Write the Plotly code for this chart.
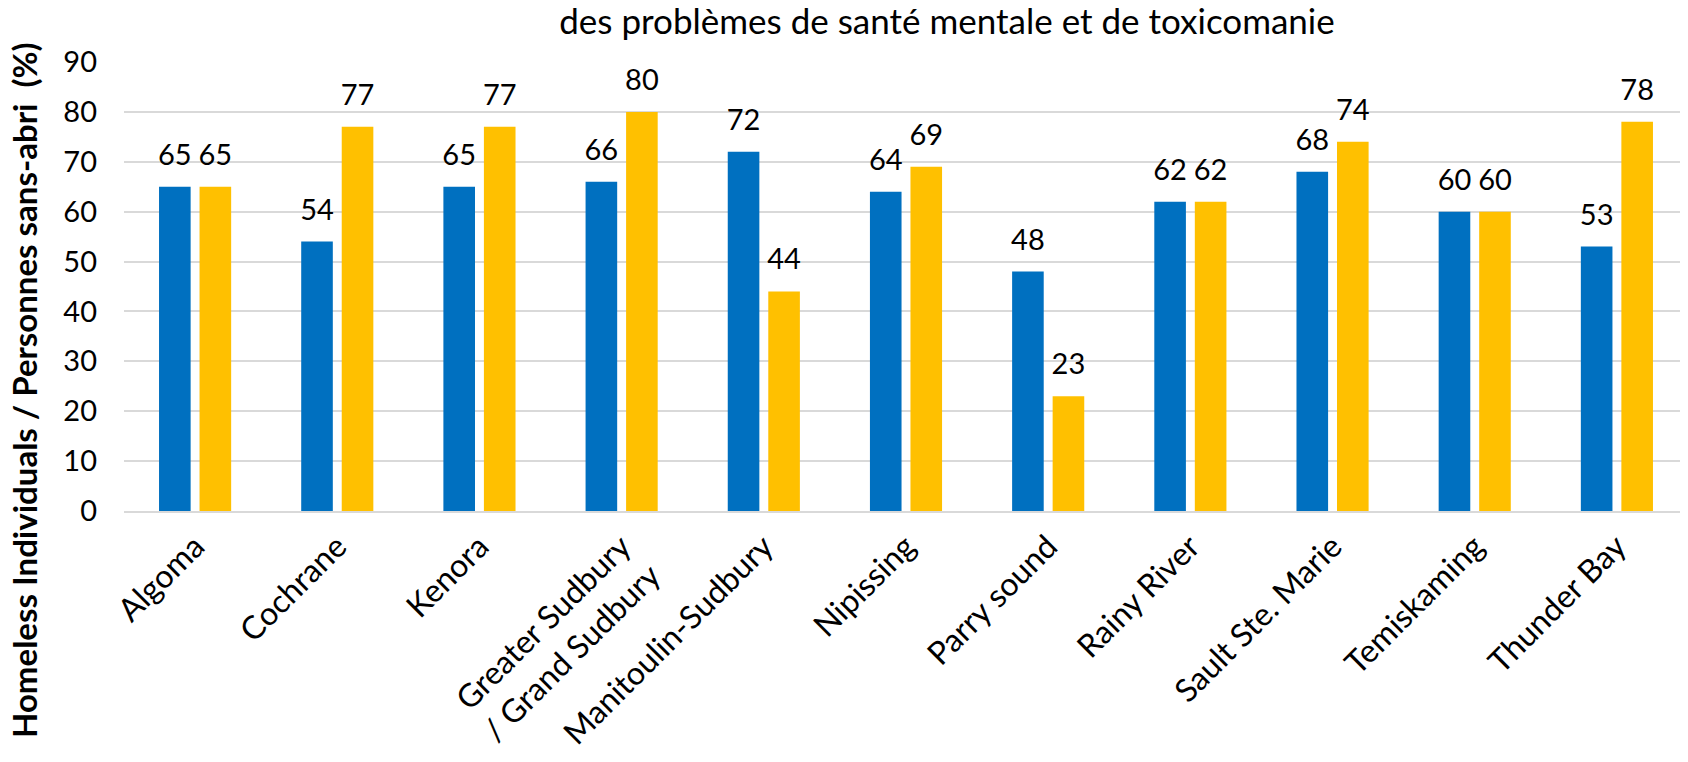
import plotly.graph_objects as go

# Data
regions = ["Algoma", "Cochrane", "Kenora", "Greater Sudbury<br>/ Grand Sudbury",
           "Manitoulin-Sudbury", "Nipissing", "Parry sound", "Rainy River",
           "Sault Ste. Marie", "Temiskaming", "Thunder Bay"]
series_a = [65, 54, 65, 66, 72, 64, 48, 62, 68, 60, 53]
series_b = [65, 77, 77, 80, 44, 69, 23, 62, 74, 60, 78]
y_ticks = [0, 10, 20, 30, 40, 50, 60, 70, 80, 90]

COLOR_BLUE = "#0070C0"
COLOR_YELLOW = "#FFC000"
FONT = "Lato, sans-serif"

# page body adds an 8px offset, so the layout is shifted up/left by that much
OFF = 8
PLOT_L, PLOT_R, PLOT_T, PLOT_B = 124 - OFF, 1688 - OFF, 62 - OFF, 511 - OFF

fig = go.Figure()
for name, vals, color in [("a", series_a, COLOR_BLUE), ("b", series_b, COLOR_YELLOW)]:
    fig.add_trace(go.Bar(
        x=regions, y=vals, name=name, offsetgroup=name,
        marker=dict(color=color, line=dict(width=0)),
        hoverinfo="x+y",
    ))
# value labels, aligned with the grouped bars
for name, vals in [("a", series_a), ("b", series_b)]:
    fig.add_trace(go.Scatter(
        x=regions, y=vals, offsetgroup=name,
        mode="markers+text", text=[str(v) for v in vals],
        textposition="top center",
        marker=dict(size=22, opacity=0),
        textfont=dict(family=FONT, size=29, color="#000000"),
        cliponaxis=False, hoverinfo="skip",
    ))

fig.update_layout(
    width=1688, height=762,
    template="plotly_white",
    showlegend=False,
    barmode="group", bargap=0.43, bargroupgap=0.22,
    scattermode="group", scattergap=0.43,
    font=dict(family=FONT, color="#000000"),
    margin=dict(l=PLOT_L, r=1688 - PLOT_R, t=PLOT_T, b=762 - PLOT_B),
    plot_bgcolor="white", paper_bgcolor="white",
    title=dict(
        text="des problèmes de santé mentale et de toxicomanie",
        x=(947 - OFF) / 1688, xanchor="center", xref="container",
        y=1 - 1 / 762, yanchor="top", yref="container",
        font=dict(family=FONT, size=35, color="#000000"),
        pad=dict(t=0, b=0),
    ),
    xaxis=dict(
        tickangle=-45, tickfont=dict(family=FONT, size=32, color="#000000"),
        showline=True, linecolor="#D9D9D9", linewidth=2,
        showgrid=False, ticks="", ticklabelstandoff=2, automargin=False,
    ),
    yaxis=dict(
        range=[0, 90], tickvals=y_ticks,
        tickfont=dict(family=FONT, size=29, color="#000000"),
        showgrid=True, gridcolor="#D9D9D9", gridwidth=1.5,
        zeroline=False, ticks="", ticklabelstandoff=26, automargin=False,
    ),
)
fig.add_annotation(
    text="<b>Homeless Individuals / Personnes sans-abri  (%)</b>",
    xref="paper", yref="paper",
    x=(24 - OFF - PLOT_L) / (PLOT_R - PLOT_L),
    y=(PLOT_B - (390 - OFF)) / (PLOT_B - PLOT_T),
    xanchor="center", yanchor="middle", textangle=-90, showarrow=False,
    font=dict(family=FONT, size=33, color="#000000"),
)

fig.write_html("out.html")
